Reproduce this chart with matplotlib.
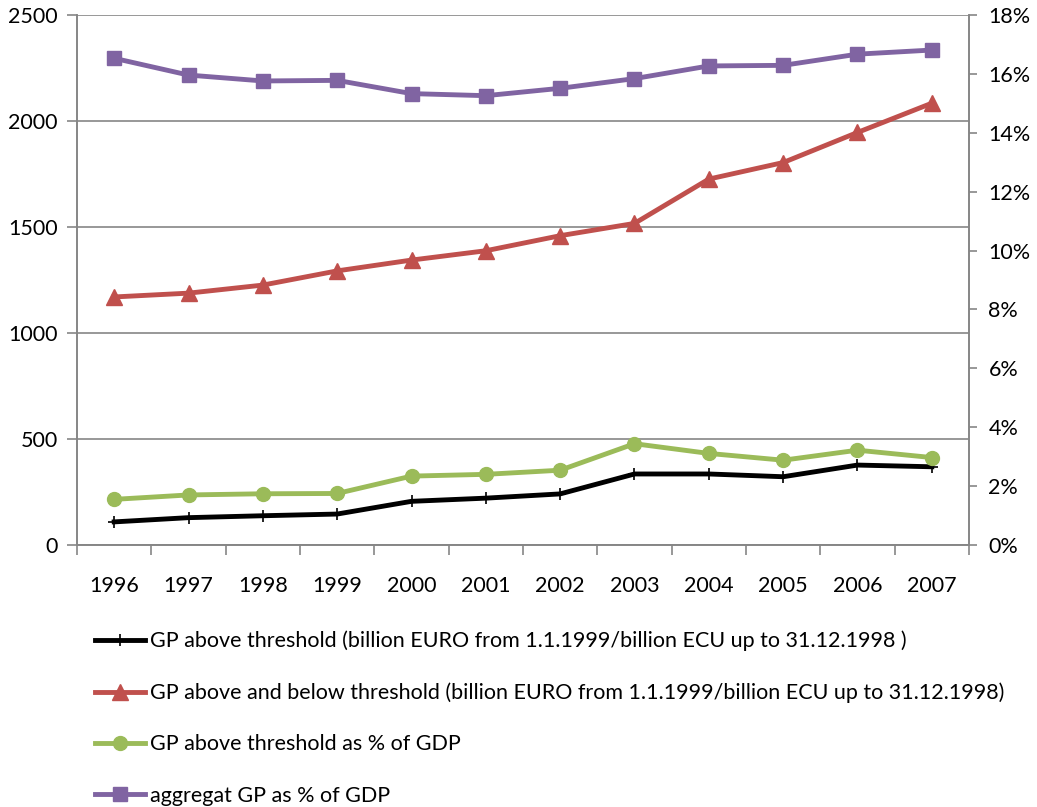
import matplotlib.pyplot as plt
from matplotlib.ticker import FuncFormatter, FixedLocator

years = ['1996', '1997', '1998', '1999', '2000', '2001', '2002', '2003', '2004', '2005', '2006', '2007']

# billion EURO (left axis)
gp_above = [109, 129, 138, 146, 206, 221, 241, 335, 335, 322, 377, 369]
gp_total = [1170, 1188, 1226, 1293, 1344, 1388, 1459, 1517, 1726, 1804, 1946, 2084]

# % of GDP (right axis)
gp_above_pct = [1.55, 1.70, 1.74, 1.75, 2.34, 2.40, 2.54, 3.44, 3.11, 2.88, 3.22, 2.97]
aggregat_pct = [16.53, 15.96, 15.76, 15.78, 15.33, 15.26, 15.51, 15.84, 16.27, 16.29, 16.67, 16.81]

labels = [
    'GP above threshold (billion EURO from 1.1.1999/billion ECU up to 31.12.1998 )',
    'GP above and below threshold (billion EURO from 1.1.1999/billion ECU up to 31.12.1998)',
    'GP above threshold as % of GDP',
    'aggregat GP as % of GDP',
]

plt.rcParams['font.family'] = ['Lato', 'DejaVu Sans']
fs = 15.5
grey = '#868686'

fig = plt.figure(figsize=(10.37, 8.07), dpi=100)
W, H = 1037, 807
ax = fig.add_axes([77 / W, 1 - 545 / H, (969 - 77) / W, (545 - 15) / H])
ax2 = ax.twinx()

x = list(range(len(years)))

l1, = ax.plot(x, gp_above, color='black', lw=3.5, marker='+', ms=9, mew=1.2)
l2, = ax.plot(x, gp_total, color='#C0504D', lw=3.5, marker='^', ms=11)
l3, = ax2.plot(x, gp_above_pct, color='#9BBB59', lw=3.5, marker='o', ms=10)
l4, = ax2.plot(x, aggregat_pct, color='#8064A2', lw=3.5, marker='s', ms=10)

ax.set_xlim(-0.5, len(years) - 0.5)
ax.set_ylim(0, 2500)
ax.set_yticks([0, 500, 1000, 1500, 2000, 2500])
ax2.set_ylim(0, 18)
ax2.set_yticks(range(0, 19, 2))
ax2.yaxis.set_major_formatter(FuncFormatter(lambda v, p: f'{int(v)}%'))

ax.yaxis.grid(True, color=grey, lw=1.2)
ax.set_axisbelow(True)

# category labels centred, tick marks on boundaries
ax.set_xticks(x)
ax.set_xticklabels(years)
ax.tick_params(axis='x', length=0, pad=22, labelsize=fs)
ax.xaxis.set_minor_locator(FixedLocator([i - 0.5 for i in range(len(years) + 1)]))
ax.tick_params(axis='x', which='minor', length=7, color=grey, width=1.2)

ax.tick_params(axis='y', length=7, color=grey, width=1.2, labelsize=fs, pad=7)
ax2.tick_params(axis='y', length=6, color=grey, width=1.2, labelsize=fs, pad=8)

for a in (ax, ax2):
    for s in a.spines.values():
        s.set_color(grey)
        s.set_linewidth(1.2)
    a.spines['top'].set_visible(False)

fig.legend([l1, l2, l3, l4], labels, loc='upper left',
           bbox_to_anchor=(84 / W, 1 - 620 / H), frameon=False, fontsize=fs,
           handlelength=2.35, handletextpad=0.2, labelspacing=1.45, borderpad=0)

fig.savefig('out.png', dpi=100)
